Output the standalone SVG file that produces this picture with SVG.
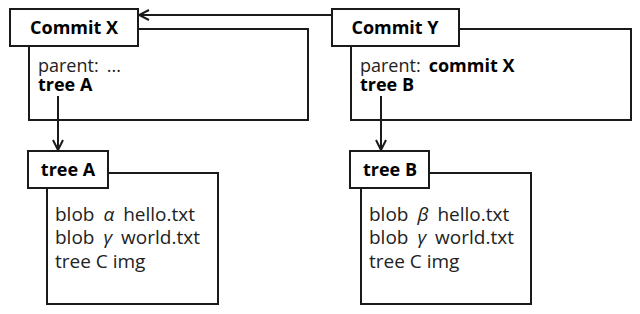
<svg xmlns="http://www.w3.org/2000/svg" width="640" height="314" viewBox="0 0 640 314">
<defs>
<marker id="arr" viewBox="0 0 12 12" refX="11" refY="6" markerWidth="12" markerHeight="12" markerUnits="userSpaceOnUse" orient="auto">
<path d="M1,1 L11,6 L1,11" fill="none" stroke="#1a1a1a" stroke-width="2"/>
</marker>
<style>
.box{fill:#fff;stroke:#1a1a1a;stroke-width:2}
.hd{font-family:"Open Sans","Liberation Sans",sans-serif;font-weight:bold;font-size:18px;fill:#000;text-anchor:middle}
.tx{font-family:"Open Sans","Liberation Sans",sans-serif;font-size:18px;fill:#222}
.bl{font-family:"Open Sans","Liberation Sans",sans-serif;font-size:19px;fill:#222}
.b{font-weight:bold;fill:#000}
.g{font-style:italic}
.ln{fill:none;stroke:#1a1a1a;stroke-width:2}
</style>
</defs>
<rect width="640" height="314" fill="#fff"/>
<g id="commitX">
<rect class="box" x="29" y="29" width="279" height="91"/>
<rect class="box" x="10" y="9" width="128" height="37"/>
<text class="hd" x="74" y="34">Commit X</text>
<text class="tx" x="38" y="72">parent:<tspan dx="8">...</tspan></text>
<text class="tx b" x="38" y="91">tree A</text>
</g>
<g id="commitY">
<rect class="box" x="351" y="29" width="280" height="91"/>
<rect class="box" x="332" y="9" width="127" height="37"/>
<text class="hd" x="395" y="34">Commit Y</text>
<text class="tx" x="360" y="72">parent:<tspan class="b" dx="8">commit X</tspan></text>
<text class="tx b" x="360" y="91">tree B</text>
</g>
<g id="treeA">
<rect class="box" x="47" y="173" width="171" height="131"/>
<rect class="box" x="28" y="151" width="80" height="37"/>
<text class="hd" x="68" y="176">tree A</text>
<text class="bl" x="55" y="221">blob <tspan class="g" dx="4">α</tspan><tspan dx="4"> hello.txt</tspan></text>
<text class="bl" x="55" y="244">blob <tspan class="g" dx="4">γ</tspan><tspan dx="4"> world.txt</tspan></text>
<text class="bl" x="55" y="268">tree C img</text>
</g>
<g id="treeB">
<rect class="box" x="361" y="173" width="170" height="131"/>
<rect class="box" x="350" y="151" width="79" height="37"/>
<text class="hd" x="390" y="176">tree B</text>
<text class="bl" x="369" y="221">blob <tspan class="g" dx="4">β</tspan><tspan dx="4"> hello.txt</tspan></text>
<text class="bl" x="369" y="244">blob <tspan class="g" dx="4">γ</tspan><tspan dx="4"> world.txt</tspan></text>
<text class="bl" x="369" y="268">tree C img</text>
</g>
<g id="connectors">
<line class="ln" x1="332" y1="15" x2="139" y2="15" marker-end="url(#arr)"/>
<line class="ln" x1="58" y1="96" x2="58" y2="150" marker-end="url(#arr)"/>
<line class="ln" x1="381" y1="96" x2="381" y2="150" marker-end="url(#arr)"/>
</g>
</svg>
